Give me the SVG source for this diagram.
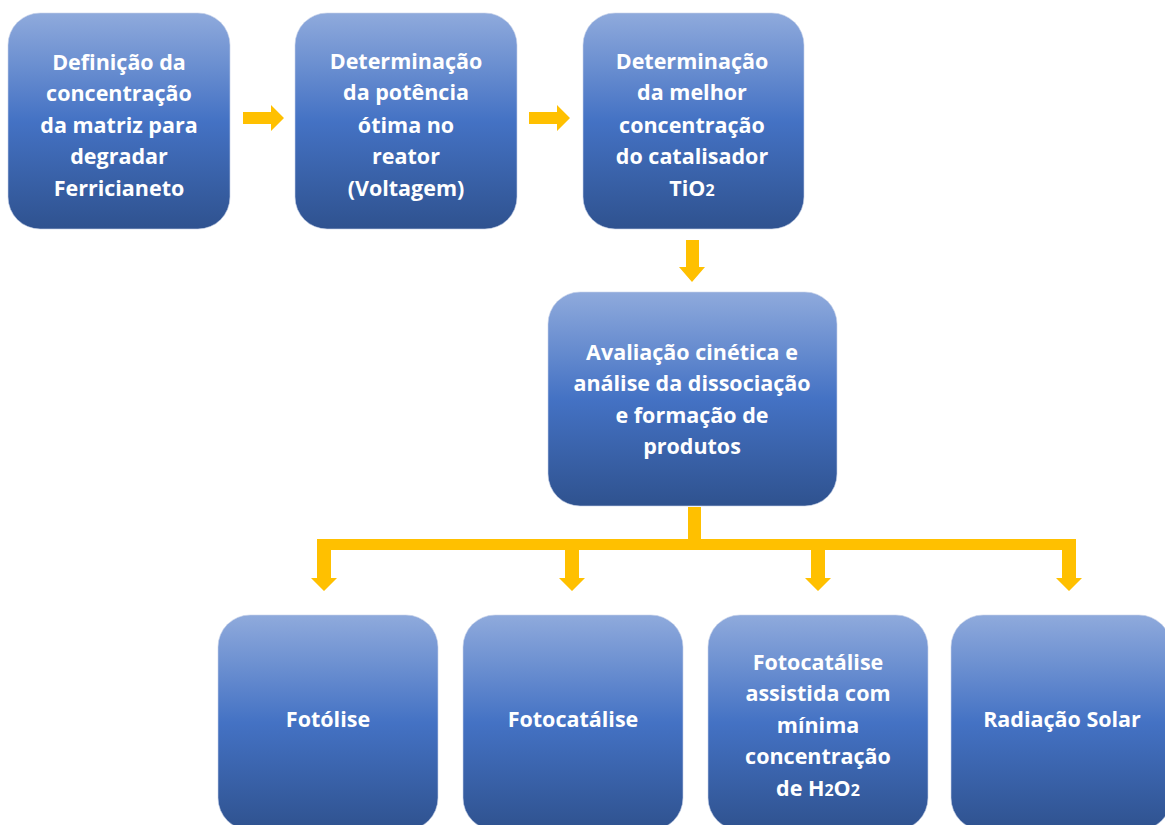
<svg xmlns="http://www.w3.org/2000/svg" width="1165" height="825" viewBox="0 0 1165 825">
<defs>
<linearGradient id="g" x1="0" y1="0" x2="0" y2="1">
<stop offset="0" stop-color="#8FAADC"/>
<stop offset="0.5" stop-color="#4472C4"/>
<stop offset="1" stop-color="#2F528F"/>
</linearGradient>
<style>
.box{fill:url(#g);stroke:#c9d4ea;stroke-width:1;stroke-opacity:0.6}
.t{font-family:"Open Sans","Liberation Sans",sans-serif;font-weight:bold;font-size:21.5px;fill:#fff;text-anchor:middle}
.sub{font-size:16px}
.arr{fill:#FFC000}
</style>
</defs>
<rect width="1165" height="825" fill="#fff"/>
<g id="connectors">
<polygon class="arr" points="243,112 271,112 271,105 284,118 271,131 271,124 243,124"/>
<polygon class="arr" points="529,112 557,112 557,105 570,118 557,131 557,124 529,124"/>
<polygon class="arr" points="686,240 699,240 699,267 705,267 692,282 679,267 686,267"/>
<rect class="arr" x="688" y="507" width="13" height="35"/>
<rect class="arr" x="317" y="539" width="759" height="11"/>
<polygon class="arr" points="317,545 331,545 331,578 337,578 324,591 311,578 317,578"/>
<polygon class="arr" points="565,545 579,545 579,578 585,578 572,591 559,578 565,578"/>
<polygon class="arr" points="811,545 825,545 825,578 831,578 818,591 805,578 811,578"/>
<polygon class="arr" points="1062,545 1076,545 1076,578 1082,578 1069,591 1056,578 1062,578"/>
</g>
<g id="n1">
<rect class="box" x="8" y="13" width="222" height="216" rx="32"/>
<text class="t"><tspan x="119" y="70">Definição da</tspan><tspan x="119" y="101">concentração</tspan><tspan x="119" y="133">da matriz para</tspan><tspan x="119" y="164">degradar</tspan><tspan x="119" y="196">Ferricianeto</tspan></text>
</g>
<g id="n2">
<rect class="box" x="295" y="13" width="222" height="216" rx="32"/>
<text class="t"><tspan x="406" y="69">Determinação</tspan><tspan x="406" y="100">da potência</tspan><tspan x="406" y="133">ótima no</tspan><tspan x="406" y="164">reator</tspan><tspan x="406" y="196">(Voltagem)</tspan></text>
</g>
<g id="n3">
<rect class="box" x="583" y="13" width="221" height="216" rx="32"/>
<text class="t"><tspan x="692" y="69">Determinação</tspan><tspan x="692" y="100">da melhor</tspan><tspan x="692" y="133">concentração</tspan><tspan x="692" y="164">do catalisador</tspan><tspan x="692" y="196">TiO<tspan class="sub">2</tspan></tspan></text>
</g>
<g id="n4">
<rect class="box" x="548" y="292" width="289" height="214" rx="32"/>
<text class="t"><tspan x="692" y="360">Avaliação cinética e</tspan><tspan x="692" y="391">análise da dissociação</tspan><tspan x="692" y="423">e formação de</tspan><tspan x="692" y="454">produtos</tspan></text>
</g>
<g id="n5">
<rect class="box" x="218" y="615" width="220" height="215" rx="32"/>
<text class="t" x="328" y="727">Fotólise</text>
</g>
<g id="n6">
<rect class="box" x="463" y="615" width="220" height="215" rx="32"/>
<text class="t" x="573" y="727">Fotocatálise</text>
</g>
<g id="n7">
<rect class="box" x="708" y="615" width="220" height="215" rx="32"/>
<text class="t"><tspan x="818" y="670">Fotocatálise</tspan><tspan x="818" y="701">assistida com</tspan><tspan x="818" y="733">mínima</tspan><tspan x="818" y="764">concentração</tspan><tspan x="818" y="796">de H<tspan class="sub">2</tspan>O<tspan class="sub">2</tspan></tspan></text>
</g>
<g id="n8">
<rect class="box" x="951" y="615" width="220" height="215" rx="32"/>
<text class="t" x="1062" y="727">Radiação Solar</text>
</g>
</svg>
